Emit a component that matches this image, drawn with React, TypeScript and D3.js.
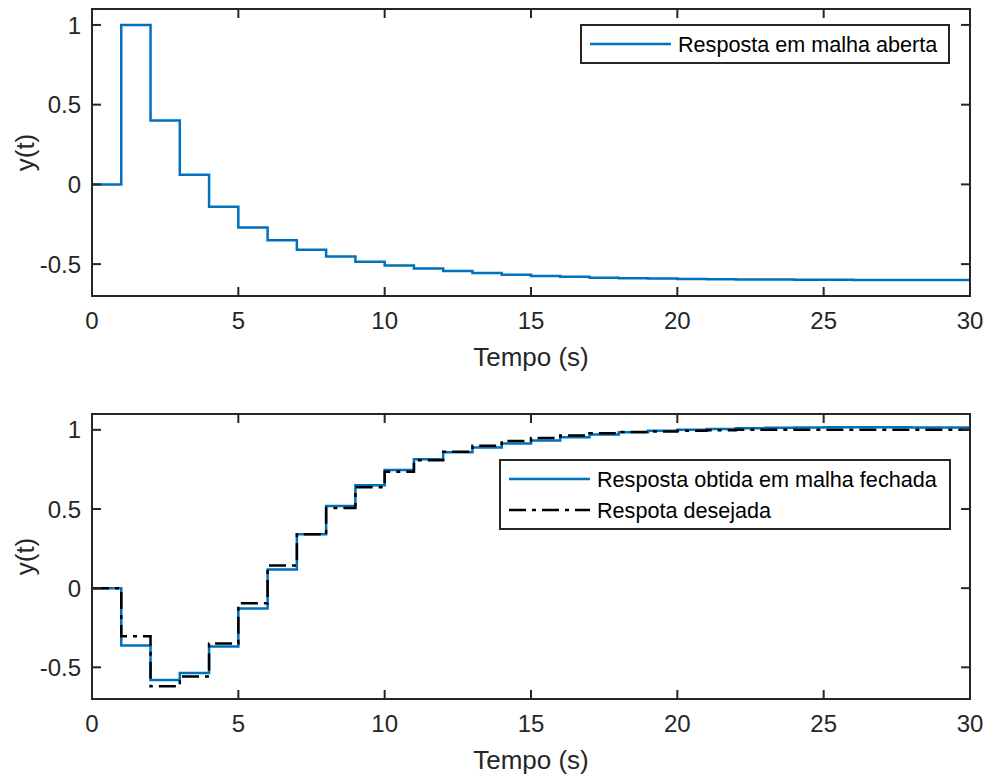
import React from "react";
import * as d3 from "d3";

// Sample instants (s) for the discrete step responses
const time = d3.range(0, 31);

// Open-loop response y(k)
const openLoop = [
  0, 1.0, 0.4, 0.06, -0.14, -0.27, -0.35, -0.41, -0.452, -0.485, -0.508,
  -0.527, -0.543, -0.556, -0.566, -0.574, -0.58, -0.585, -0.589, -0.591,
  -0.593, -0.595, -0.596, -0.597, -0.598, -0.598, -0.599, -0.599, -0.6, -0.6,
  -0.6,
];

// Closed-loop response obtained
const closedLoop = [
  0, -0.362, -0.58, -0.535, -0.368, -0.128, 0.118, 0.34, 0.519, 0.65, 0.746,
  0.814, 0.859, 0.889, 0.914, 0.932, 0.953, 0.971, 0.984, 0.995, 1.001,
  1.006, 1.01, 1.013, 1.015, 1.016, 1.016, 1.016, 1.015, 1.015, 1.015,
];

// Desired closed-loop response
const desired = [
  0, -0.303, -0.62, -0.558, -0.35, -0.096, 0.143, 0.34, 0.507, 0.638, 0.735,
  0.808, 0.862, 0.9, 0.93, 0.948, 0.964, 0.978, 0.986, 0.99, 0.995, 0.998,
  1.0, 1.0, 1.0, 1.0, 1.0, 1.0, 1.0, 1.0, 1.0,
];

const xTicks = [0, 5, 10, 15, 20, 25, 30];
const yTicks = [-0.5, 0, 0.5, 1];
const xDomain: [number, number] = [0, 30];
const yDomain: [number, number] = [-0.7, 1.1];

const FONT = "'Liberation Sans', Arial, Helvetica, sans-serif";
const AX = "#262626";
const BLUE = "#0072BD";
const LW = 2.5;

type Series = { values: number[]; color: string; dash?: string; label: string };

type PanelProps = {
  top: number;
  bottom: number;
  series: Series[];
  legend: { x: number; y: number; w: number };
};

const LEFT = 92;
const RIGHT = 970;

function Panel({ top, bottom, series, legend }: PanelProps) {
  const x = d3.scaleLinear().domain(xDomain).range([LEFT, RIGHT]);
  const y = d3.scaleLinear().domain(yDomain).range([bottom, top]);
  const tick = 9;
  const fmt = (v: number) => (v === 0 ? "0" : String(v));
  const rowH = 31;
  const lh = series.length * rowH + 7;

  return (
    <g>
      <defs>
        <clipPath id={`clip-${top}`}>
          <rect x={LEFT} y={top} width={RIGHT - LEFT} height={bottom - top} />
        </clipPath>
      </defs>
      <g clipPath={`url(#clip-${top})`}>
        {series.map((s, i) => {
          const line = d3
            .line<number>()
            .x((_, k) => x(time[k]))
            .y((v) => y(v))
            .curve(d3.curveStepAfter);
          return (
            <path
              key={i}
              d={line(s.values) || ""}
              fill="none"
              stroke={s.color}
              strokeWidth={LW}
              strokeDasharray={s.dash}
            />
          );
        })}
      </g>
      {/* box */}
      <rect
        x={LEFT}
        y={top}
        width={RIGHT - LEFT}
        height={bottom - top}
        fill="none"
        stroke={AX}
        strokeWidth={2}
      />
      {/* x ticks */}
      {xTicks.map((t) => (
        <g key={`x${t}`}>
          <line x1={x(t)} x2={x(t)} y1={bottom} y2={bottom - tick} stroke={AX} strokeWidth={2} />
          <line x1={x(t)} x2={x(t)} y1={top} y2={top + tick} stroke={AX} strokeWidth={2} />
          <text
            x={x(t)}
            y={bottom + 33}
            textAnchor="middle"
            fontSize={24}
            fill={AX}
            fontFamily={FONT}
          >
            {t}
          </text>
        </g>
      ))}
      {/* y ticks */}
      {yTicks.map((t) => (
        <g key={`y${t}`}>
          <line x1={LEFT} x2={LEFT + tick} y1={y(t)} y2={y(t)} stroke={AX} strokeWidth={2} />
          <line x1={RIGHT} x2={RIGHT - tick} y1={y(t)} y2={y(t)} stroke={AX} strokeWidth={2} />
          <text
            x={81}
            y={y(t)}
            dy="0.36em"
            textAnchor="end"
            fontSize={24}
            fill={AX}
            fontFamily={FONT}
          >
            {fmt(t)}
          </text>
        </g>
      ))}
      {/* axis labels */}
      <text
        x={(LEFT + RIGHT) / 2}
        y={bottom + 70}
        textAnchor="middle"
        fontSize={26}
        fill={AX}
        fontFamily={FONT}
      >
        Tempo (s)
      </text>
      <text
        transform={`translate(34,${(top + bottom) / 2}) rotate(-90)`}
        textAnchor="middle"
        fontSize={26}
        fill={AX}
        fontFamily={FONT}
      >
        y(t)
      </text>
      {/* legend */}
      <rect
        x={legend.x}
        y={legend.y}
        width={legend.w}
        height={lh}
        fill="#fff"
        stroke={AX}
        strokeWidth={2}
      />
      {series.map((s, i) => {
        const cy = legend.y + 19 + i * rowH;
        return (
          <g key={`l${i}`}>
            <line
              x1={legend.x + 9}
              x2={legend.x + 90}
              y1={cy}
              y2={cy}
              stroke={s.color}
              strokeWidth={LW}
              strokeDasharray={s.dash}
            />
            <text
              x={legend.x + 97}
              y={cy}
              dy="0.36em"
              fontSize={21.6}
              fill="#000"
              fontFamily={FONT}
            >
              {s.label}
            </text>
          </g>
        );
      })}
    </g>
  );
}

export default function App() {
  return (
    <svg
      width={986}
      height={778}
      style={{ position: "absolute", left: 0, top: 0, background: "#fff" }}
    >
      <rect width={986} height={778} fill="#fff" />
      <Panel
        top={9}
        bottom={296}
        series={[{ values: openLoop, color: BLUE, label: "Resposta em malha aberta" }]}
        legend={{ x: 581, y: 25, w: 368 }}
      />
      <Panel
        top={414}
        bottom={699}
        series={[
          { values: closedLoop, color: BLUE, label: "Resposta obtida em malha fechada" },
          { values: desired, color: "#000", dash: "17 6 4 6", label: "Respota desejada" },
        ]}
        legend={{ x: 500, y: 460, w: 450 }}
      />
    </svg>
  );
}
